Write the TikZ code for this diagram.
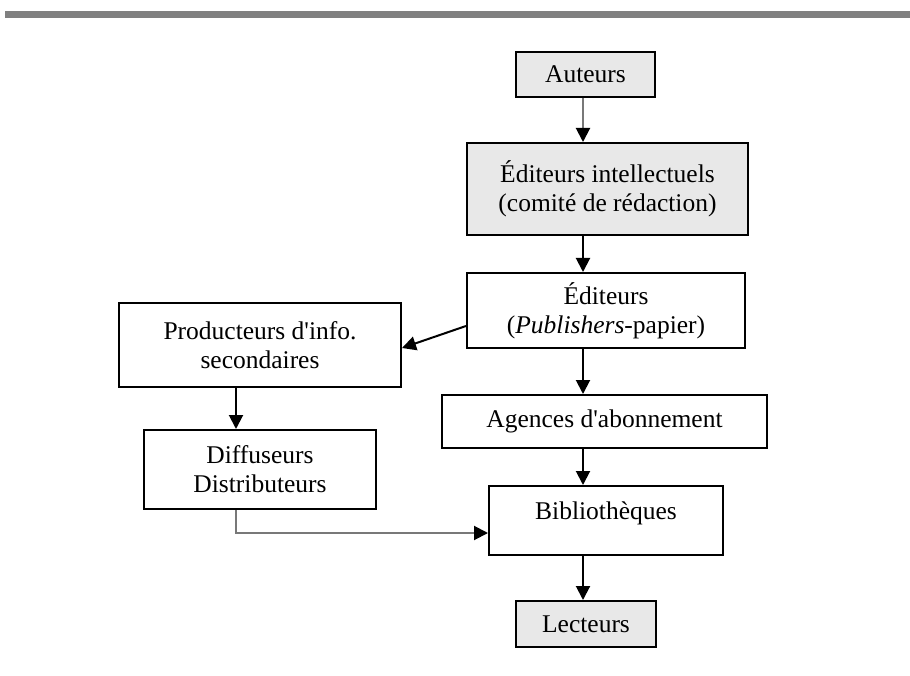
\documentclass[tikz,border=0pt]{standalone}
\usepackage{fontspec}
\setmainfont{Liberation Serif}[Ligatures=TeXOff]
\usetikzlibrary{arrows.meta}
\definecolor{boxgray}{RGB}{232,232,232}
\definecolor{bargray}{RGB}{128,128,128}
\definecolor{linegray}{RGB}{120,120,120}
\begin{document}
\begin{tikzpicture}[x=1pt,y=-1pt,
  box/.style={draw=black, line width=2pt, fill=white, minimum width=#1, inner sep=0pt, align=center,
    font=\fontsize{25.5}{29}\selectfont},
  shaded/.style={fill=boxgray},
  arr/.style={line width=2pt, -{Triangle[length=14pt,width=14pt,color=black]}},
  graylink/.style={arr, draw=linegray}]
\useasboundingbox (0,0) rectangle (910,676);
\fill[bargray] (5,11) rectangle (910,18);

\node[box=139pt, shaded, minimum height=45pt] (auteurs) at (585.5,74.5) {Auteurs};
\node[box=281pt, shaded, minimum height=92pt] (ei) at (607.5,189) {Éditeurs intellectuels\\(comité de rédaction)};
\node[box=278pt, minimum height=75pt] (ed) at (606,310.5) {Éditeurs\\(\textit{Publishers}-papier)};
\node[box=282pt, minimum height=84pt] (prod) at (260,345) {Producteurs d'info.\\secondaires};
\node[box=325pt, minimum height=53pt] (agences) at (604.5,421.5) {Agences d'abonnement};
\node[box=232pt, minimum height=79pt] (diff) at (260,469.5) {Diffuseurs\\Distributeurs};
\node[box=234pt, minimum height=69pt,
  label={[font=\fontsize{25.5}{29}\selectfont, yshift=7pt]center:Bibliothèques}] (biblio) at (606,520.5) {};
\node[box=140pt, shaded, minimum height=46pt] (lecteurs) at (586,624) {Lecteurs};

\coordinate (col) at (583,0);
\coordinate (lcol) at (236,0);

\draw[graylink] (auteurs.south -| col) -- (ei.north -| col);
\draw[arr] (ei.south -| col) -- (ed.north -| col);
\draw[arr] (ed.south -| col) -- (agences.north -| col);
\draw[arr] (agences.south -| col) -- (biblio.north -| col);
\draw[arr] (biblio.south -| col) -- (lecteurs.north -| col);
\draw[arr] ([yshift=-15.5pt]ed.west) -- ([yshift=-3pt]prod.east);
\draw[arr] (prod.south -| lcol) -- (diff.north -| lcol);
\draw[graylink] (diff.south -| lcol) |- ([yshift=-12.5pt]biblio.west);
\end{tikzpicture}
\end{document}
